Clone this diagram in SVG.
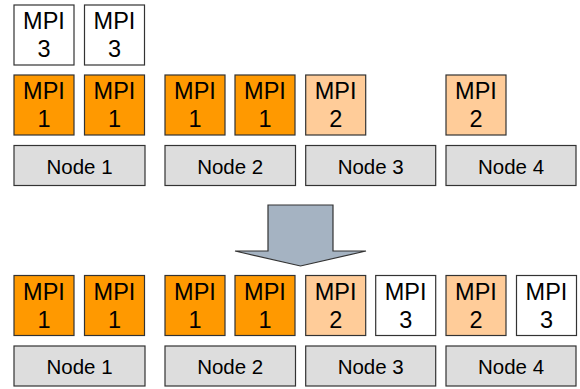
<svg xmlns="http://www.w3.org/2000/svg" width="580" height="389" viewBox="0 0 580 389">
<style>
.b{stroke:#333;stroke-width:1.2}
.o{fill:#FF9900}
.l{fill:#FFCC99}
.w{fill:#FFFFFF}
.n{fill:#DDDDDD;stroke:#333;stroke-width:1.2}
.t{font-family:"Liberation Sans",Arial,sans-serif;font-size:23.5px;fill:#000;text-anchor:middle}
.nt{font-family:"Liberation Sans",Arial,sans-serif;font-size:20.5px;fill:#000;text-anchor:middle}
</style>
<rect width="580" height="389" fill="#fff"/>
<g id="top">
<g id="t-mpi3a"><rect class="b w" x="14" y="5" width="60" height="60"/><text class="t" x="44" y="29.3">MPI</text><text class="t" x="44" y="57.3">3</text></g>
<g id="t-mpi3b"><rect class="b w" x="84.5" y="5" width="60" height="60"/><text class="t" x="114.5" y="29.3">MPI</text><text class="t" x="114.5" y="57.3">3</text></g>
<g id="t-mpi1a"><rect class="b o" x="14" y="75" width="60" height="60"/><text class="t" x="44" y="99.3">MPI</text><text class="t" x="44" y="127.3">1</text></g>
<g id="t-mpi1b"><rect class="b o" x="84.5" y="75" width="60" height="60"/><text class="t" x="114.5" y="99.3">MPI</text><text class="t" x="114.5" y="127.3">1</text></g>
<g id="t-mpi1c"><rect class="b o" x="165" y="75" width="60" height="60"/><text class="t" x="195" y="99.3">MPI</text><text class="t" x="195" y="127.3">1</text></g>
<g id="t-mpi1d"><rect class="b o" x="235" y="75" width="60" height="60"/><text class="t" x="265" y="99.3">MPI</text><text class="t" x="265" y="127.3">1</text></g>
<g id="t-mpi2a"><rect class="b l" x="305.7" y="75" width="60" height="60"/><text class="t" x="335.7" y="99.3">MPI</text><text class="t" x="335.7" y="127.3">2</text></g>
<g id="t-mpi2b"><rect class="b l" x="446" y="75" width="60" height="60"/><text class="t" x="476" y="99.3">MPI</text><text class="t" x="476" y="127.3">2</text></g>
<g id="t-node1"><rect class="n" x="14" y="145.5" width="131" height="40"/><text class="nt" x="79.5" y="173.5">Node 1</text></g>
<g id="t-node2"><rect class="n" x="165" y="145.5" width="130.5" height="40"/><text class="nt" x="230.2" y="173.5">Node 2</text></g>
<g id="t-node3"><rect class="n" x="305.7" y="145.5" width="130" height="40"/><text class="nt" x="370.7" y="173.5">Node 3</text></g>
<g id="t-node4"><rect class="n" x="446" y="145.5" width="130" height="40"/><text class="nt" x="511" y="173.5">Node 4</text></g>
</g>
<g id="connectors">
<polygon id="arrow" points="268,205 333,205 333,251 366,251 300.5,266 235,251 268,251" fill="#A5B3C2" stroke="#333" stroke-width="1.2"/>
</g>
<g id="bottom">
<g id="b-mpi1a"><rect class="b o" x="14" y="275.5" width="60" height="60"/><text class="t" x="44" y="299.8">MPI</text><text class="t" x="44" y="327.8">1</text></g>
<g id="b-mpi1b"><rect class="b o" x="84.5" y="275.5" width="60" height="60"/><text class="t" x="114.5" y="299.8">MPI</text><text class="t" x="114.5" y="327.8">1</text></g>
<g id="b-mpi1c"><rect class="b o" x="165" y="275.5" width="60" height="60"/><text class="t" x="195" y="299.8">MPI</text><text class="t" x="195" y="327.8">1</text></g>
<g id="b-mpi1d"><rect class="b o" x="235" y="275.5" width="60" height="60"/><text class="t" x="265" y="299.8">MPI</text><text class="t" x="265" y="327.8">1</text></g>
<g id="b-mpi2a"><rect class="b l" x="305.7" y="275.5" width="60" height="60"/><text class="t" x="335.7" y="299.8">MPI</text><text class="t" x="335.7" y="327.8">2</text></g>
<g id="b-mpi3a"><rect class="b w" x="375.7" y="275.5" width="60" height="60"/><text class="t" x="405.7" y="299.8">MPI</text><text class="t" x="405.7" y="327.8">3</text></g>
<g id="b-mpi2b"><rect class="b l" x="446" y="275.5" width="60" height="60"/><text class="t" x="476" y="299.8">MPI</text><text class="t" x="476" y="327.8">2</text></g>
<g id="b-mpi3b"><rect class="b w" x="516.5" y="275.5" width="60" height="60"/><text class="t" x="546.5" y="299.8">MPI</text><text class="t" x="546.5" y="327.8">3</text></g>
<g id="b-node1"><rect class="n" x="14" y="346" width="131" height="40"/><text class="nt" x="79.5" y="374">Node 1</text></g>
<g id="b-node2"><rect class="n" x="165" y="346" width="130.5" height="40"/><text class="nt" x="230.2" y="374">Node 2</text></g>
<g id="b-node3"><rect class="n" x="305.7" y="346" width="130" height="40"/><text class="nt" x="370.7" y="374">Node 3</text></g>
<g id="b-node4"><rect class="n" x="446" y="346" width="130" height="40"/><text class="nt" x="511" y="374">Node 4</text></g>
</g>
</svg>
